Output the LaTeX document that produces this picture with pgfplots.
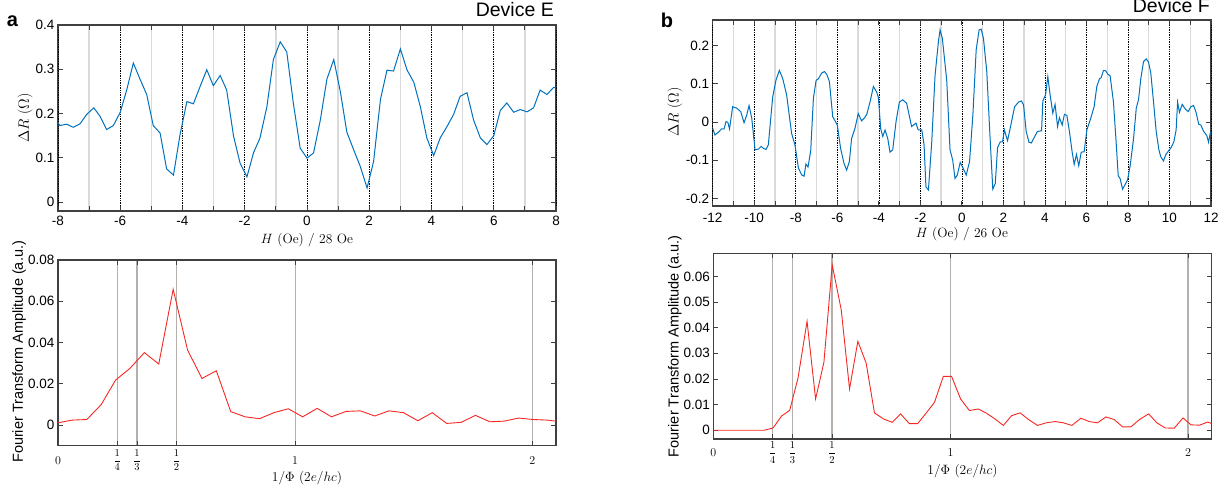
\documentclass[border=0pt]{standalone}
\usepackage{fix-cm}
\usepackage{fontspec}
\usepackage{pgfplots}
\pgfplotsset{compat=1.18}
\newfontfamily\hv{Liberation Sans}
\definecolor{mblue}{RGB}{0,114,189}
\definecolor{fred}{RGB}{245,40,35}
\definecolor{frm}{RGB}{64,64,64}
\definecolor{lgrid}{RGB}{218,218,218}
\definecolor{fgrid}{RGB}{180,175,170}

\pgfplotsset{
  panel/.style={
    scale only axis,
    axis line style={frm, line width=1.2pt},
    tick style={frm, line width=0.8pt},
    major tick length=5pt,
    tick align=inside,
    xtick pos=both, ytick pos=both,
    xticklabel pos=lower, yticklabel pos=left,
    scaled ticks=false,
    /pgf/number format/assume math mode=true,
    tick label style={font=\hv\fontsize{13.5}{16}\selectfont},
    xlabel style={font=\fontsize{13.5}{16}\selectfont, anchor=center},
    ylabel style={font=\fontsize{15}{17}\selectfont, anchor=center},
  },
  toppanel/.style={
    panel,
    xmajorgrids,
    major grid style={lgrid, line width=1.4pt},
    xticklabels={},
    extra x tick style={xmajorgrids=true, major grid style={black, densely dotted, line width=0.6pt}},
  },
  botpanel/.style={
    panel,
    xmin=0, xmax=2.1,
    xtick={0,0.25,0.33333,0.5,1,2},
    xticklabels={{\fontsize{12}{14}\selectfont$0$},
      {\fontsize{10.5}{12}\selectfont$\displaystyle\frac{1}{4}$},
      {\fontsize{10.5}{12}\selectfont$\displaystyle\frac{1}{3}$},
      {\fontsize{10.5}{12}\selectfont$\displaystyle\frac{1}{2}$},
      {\fontsize{12}{14}\selectfont$1$},{\fontsize{12}{14}\selectfont$2$}},
    xticklabel style={anchor=center},
    xmajorgrids,
    major grid style={fgrid, line width=1.2pt},
    yticklabel style={/pgf/number format/fixed, /pgf/number format/precision=2},
    ylabel={\hv\fontsize{14.5}{17}\selectfont Fourier Transform Amplitude (a.u.)},
    xlabel={$1/\Phi$ $(2e/hc)$},
  },
}

\begin{document}
\begin{tikzpicture}[x=1pt,y=1pt]
\useasboundingbox (0,0) rectangle (1228,492);

% a: Device E, resistance
\begin{axis}[toppanel, at={(58pt,281pt)}, anchor=south west,
  width=498pt, height=186pt,
  xmin=-8, xmax=8, ymin=-0.02, ymax=0.4,
  xtick={-7,-5,...,7},
  extra x ticks={-8,-6,...,8},
  extra x tick labels={-8,-6,-4,-2,0,2,4,6,8},
  xticklabel style={anchor=center, yshift=-10pt},
  ytick={0,0.1,0.2,0.3,0.4},
  xlabel={$H$ (Oe) / 28 Oe},
  ylabel={$\Delta R$ ($\Omega$)},
  xlabel style={at={(axis description cs:0.5,-0.156)}},
  ylabel style={at={(axis description cs:-0.066,0.5)}},
]
\addplot[mblue, line width=1pt, no marks] coordinates {
(-8.00,0.179)(-7.94,0.173)(-7.72,0.176)(-7.51,0.169)(-7.29,0.177)(-7.08,0.198)
(-6.85,0.213)(-6.65,0.194)(-6.44,0.164)(-6.22,0.173)(-6.00,0.203)(-5.79,0.254)
(-5.58,0.314)(-5.36,0.277)(-5.15,0.243)(-4.94,0.173)(-4.72,0.156)(-4.51,0.075)
(-4.29,0.061)(-4.08,0.152)(-3.86,0.227)(-3.65,0.222)(-3.43,0.262)(-3.22,0.299)
(-3.01,0.263)(-2.79,0.286)(-2.58,0.253)(-2.36,0.149)(-2.15,0.088)(-1.93,0.057)
(-1.72,0.111)(-1.51,0.145)(-1.29,0.215)(-1.08,0.322)(-0.86,0.362)(-0.65,0.339)
(-0.44,0.224)(-0.22,0.122)(0.00,0.0995)(0.21,0.111)(0.43,0.186)(0.64,0.278)
(0.86,0.322)(1.07,0.250)(1.28,0.158)(1.50,0.118)(1.71,0.081)(1.93,0.032)
(2.14,0.092)(2.36,0.232)(2.57,0.298)(2.78,0.296)(3.00,0.346)(3.21,0.299)
(3.43,0.271)(3.64,0.216)(3.85,0.145)(4.07,0.105)(4.28,0.145)(4.50,0.171)
(4.71,0.198)(4.92,0.239)(5.14,0.247)(5.35,0.186)(5.57,0.145)(5.78,0.130)
(6.00,0.150)(6.21,0.207)(6.42,0.224)(6.64,0.203)(6.85,0.209)(7.07,0.204)
(7.28,0.213)(7.49,0.253)(7.71,0.243)(7.92,0.259)(8.00,0.258)
};
\end{axis}

% b: Device F, resistance
\begin{axis}[toppanel, at={(712.7pt,286pt)}, anchor=south west,
  width=498.3pt, height=186pt,
  xmin=-12, xmax=12, ymin=-0.22, ymax=0.267,
  xtick={-11,-9,...,11},
  extra x ticks={-12,-10,...,12},
  extra x tick labels={-12,-10,-8,-6,-4,-2,0,2,4,6,8,10,12},
  xticklabel style={anchor=center, yshift=-12pt},
  ytick={-0.2,-0.1,0,0.1,0.2},
  xlabel={$H$ (Oe) / 26 Oe},
  ylabel={$\Delta R$ ($\Omega$)},
  xlabel style={at={(axis description cs:0.5,-0.15)}},
  ylabel style={at={(axis description cs:-0.076,0.505)}},
]
\addplot[mblue, line width=1pt, no marks] coordinates {
(-12.00,-0.017)(-11.89,-0.034)(-11.73,-0.027)(-11.57,-0.018)(-11.45,-0.018)(-11.36,0.001)
(-11.27,-0.001)(-11.19,-0.018)(-11.04,0.040)(-10.84,0.036)(-10.65,0.027)(-10.49,-0.002)
(-10.36,0.018)(-10.25,0.043)(-10.12,0.010)(-9.96,-0.073)(-9.80,-0.071)(-9.67,-0.064)
(-9.56,-0.069)(-9.43,-0.072)(-9.32,-0.060)(-9.11,0.066)(-8.95,0.110)(-8.79,0.135)
(-8.63,0.114)(-8.44,0.071)(-8.20,-0.030)(-8.04,-0.060)(-7.87,-0.121)(-7.71,-0.139)
(-7.60,-0.142)(-7.51,-0.110)(-7.41,-0.118)(-7.28,-0.076)(-7.15,0.062)(-7.02,0.109)
(-6.91,0.113)(-6.75,0.128)(-6.62,0.132)(-6.51,0.125)(-6.38,0.106)(-6.22,0.014)
(-6.00,-0.008)(-5.84,-0.069)(-5.68,-0.108)(-5.55,-0.126)(-5.42,-0.104)(-5.31,-0.043)
(-5.15,-0.017)(-4.99,0.022)(-4.83,0.003)(-4.70,0.010)(-4.58,0.020)(-4.42,0.053)
(-4.26,0.093)(-4.10,0.078)(-4.02,0.064)(-3.91,-0.017)(-3.81,-0.038)(-3.70,-0.021)
(-3.57,-0.043)(-3.46,-0.079)(-3.33,-0.073)(-3.17,0.001)(-3.01,0.052)(-2.85,0.058)
(-2.66,0.049)(-2.42,-0.012)(-2.21,-0.003)(-2.10,-0.021)(-1.93,-0.021)(-1.82,-0.060)
(-1.73,-0.170)(-1.61,-0.178)(-1.45,-0.052)(-1.29,0.123)(-1.13,0.210)(-1.05,0.241)
(-0.94,0.219)(-0.73,0.110)(-0.57,-0.073)(-0.44,-0.100)(-0.33,-0.148)(-0.22,-0.139)
(-0.08,-0.106)(0.05,-0.120)(0.21,-0.139)(0.37,-0.104)(0.53,0.018)(0.69,0.189)
(0.83,0.241)(0.93,0.243)(1.04,0.219)(1.20,0.132)(1.36,-0.043)(1.49,-0.176)
(1.61,-0.161)(1.72,-0.067)(1.85,-0.052)(1.96,-0.052)(2.05,-0.021)(2.20,-0.049)
(2.36,-0.008)(2.54,0.040)(2.73,0.052)(2.87,0.055)(2.97,0.045)(3.10,-0.025)
(3.23,-0.053)(3.35,-0.055)(3.48,-0.041)(3.64,-0.025)(3.84,-0.023)(3.90,0.055)
(4.03,0.071)(4.14,0.119)(4.25,0.071)(4.38,0.023)(4.49,0.046)(4.61,-0.012)
(4.70,0.011)(4.83,-0.008)(4.94,0.020)(5.06,0.017)(5.18,-0.025)(5.31,-0.078)
(5.41,-0.111)(5.52,-0.085)(5.63,-0.115)(5.75,-0.079)(5.89,-0.078)(6.02,-0.021)
(6.21,0.010)(6.37,0.040)(6.50,0.093)(6.63,0.113)(6.71,0.116)(6.82,0.135)
(6.93,0.134)(7.03,0.125)(7.14,0.121)(7.30,0.053)(7.43,-0.052)(7.53,-0.141)
(7.62,-0.148)(7.74,-0.176)(7.85,-0.165)(7.98,-0.152)(8.11,-0.113)(8.27,-0.043)
(8.40,0.036)(8.51,0.059)(8.62,0.114)(8.75,0.158)(8.88,0.165)(8.99,0.157)
(9.10,0.128)(9.23,0.053)(9.36,-0.025)(9.49,-0.073)(9.58,-0.091)(9.71,-0.102)
(9.82,-0.086)(9.95,-0.076)(10.08,-0.067)(10.21,-0.052)(10.32,-0.021)(10.39,0.052)
(10.48,0.025)(10.61,0.046)(10.76,0.034)(10.90,0.027)(11.03,0.040)(11.16,0.043)
(11.27,0.027)(11.41,-0.006)(11.51,-0.008)(11.64,-0.024)(11.80,-0.036)(11.88,-0.053)
(11.96,-0.030)(12.00,-0.025)
};
\end{axis}

% a: Fourier transform
\begin{axis}[botpanel, at={(58pt,46.3pt)}, anchor=south west,
  width=498pt, height=185.7pt,
  ymin=-0.01, ymax=0.08,
  ytick={0,0.02,0.04,0.06,0.08},
  xticklabel style={yshift=-14.5pt},
  xlabel style={at={(axis description cs:0.5,-0.174)}},
  ylabel style={at={(axis description cs:-0.078,0.505)}},
]
\addplot[fred, line width=0.9pt, no marks] coordinates {
(0.0000,0.0011)(0.0607,0.0024)(0.1214,0.0027)(0.1821,0.0099)(0.2428,0.0218)
(0.3035,0.0275)(0.3642,0.0351)(0.4249,0.0296)(0.4856,0.0658)(0.5463,0.0364)
(0.6070,0.0226)(0.6677,0.0263)(0.7284,0.0065)(0.7891,0.0040)(0.8498,0.0031)
(0.9105,0.0060)(0.9712,0.0079)(1.0319,0.0040)(1.0926,0.0081)(1.1533,0.0040)
(1.2140,0.0066)(1.2747,0.0069)(1.3354,0.0044)(1.3961,0.0069)(1.4568,0.0060)
(1.5175,0.0021)(1.5782,0.0060)(1.6389,0.0008)(1.6996,0.0013)(1.7603,0.0047)
(1.8210,0.0016)(1.8817,0.0019)(1.9424,0.0034)(2.0031,0.0027)(2.0638,0.0024)
(2.1245,0.0015)
};
\end{axis}

% b: Fourier transform
\begin{axis}[botpanel, at={(713.3pt,53pt)}, anchor=south west,
  width=498.4pt, height=185.7pt,
  ymin=-0.0034, ymax=0.069,
  ytick={0,0.01,0.02,0.03,0.04,0.05,0.06},
  xticklabel style={yshift=-13.5pt},
  xlabel style={at={(axis description cs:0.5,-0.172)}},
  ylabel style={at={(axis description cs:-0.077,0.5)}},
]
\addplot[fred, line width=0.9pt, no marks] coordinates {
(0.000,0)(0.036,0)(0.071,0)(0.107,0)(0.143,0)(0.179,0)(0.214,0)
(0.252,0.0009)(0.287,0.0055)(0.322,0.0078)(0.357,0.0204)(0.395,0.0425)
(0.431,0.0122)(0.466,0.0265)(0.501,0.0645)(0.539,0.0470)(0.574,0.0161)
(0.609,0.0347)(0.644,0.0262)(0.679,0.0068)(0.717,0.0044)(0.754,0.0031)
(0.789,0.0064)(0.826,0.0026)(0.861,0.0026)(0.896,0.0066)(0.932,0.0109)
(0.969,0.0210)(1.004,0.0210)(1.042,0.0122)(1.079,0.0077)(1.117,0.0083)
(1.152,0.0066)(1.187,0.0044)(1.222,0.0019)(1.257,0.0057)(1.293,0.0068)
(1.328,0.0042)(1.366,0.0019)(1.402,0.0029)(1.440,0.0034)(1.475,0.0029)
(1.511,0.0019)(1.549,0.0047)(1.584,0.0034)(1.619,0.0029)(1.654,0.0052)
(1.689,0.0042)(1.725,0.0013)(1.759,0.0013)(1.796,0.0042)(1.834,0.0064)
(1.869,0.0029)(1.904,0.0009)(1.942,0.0008)(1.979,0.0048)(2.013,0.0021)
(2.049,0.0020)(2.083,0.0032)(2.100,0.0026)
};
\end{axis}

\node[anchor=center, font=\hv\bfseries\fontsize{20}{22}\selectfont] at (12.5,471) {a};
\node[anchor=center, font=\hv\bfseries\fontsize{20}{22}\selectfont] at (667,472) {b};
\node[anchor=east, inner sep=0pt, font=\hv\fontsize{19.5}{22}\selectfont] at (554,482) {Device E};
\node[anchor=east, inner sep=0pt, font=\hv\fontsize{19.5}{22}\selectfont] at (1210,486) {Device F};
\end{tikzpicture}
\end{document}
